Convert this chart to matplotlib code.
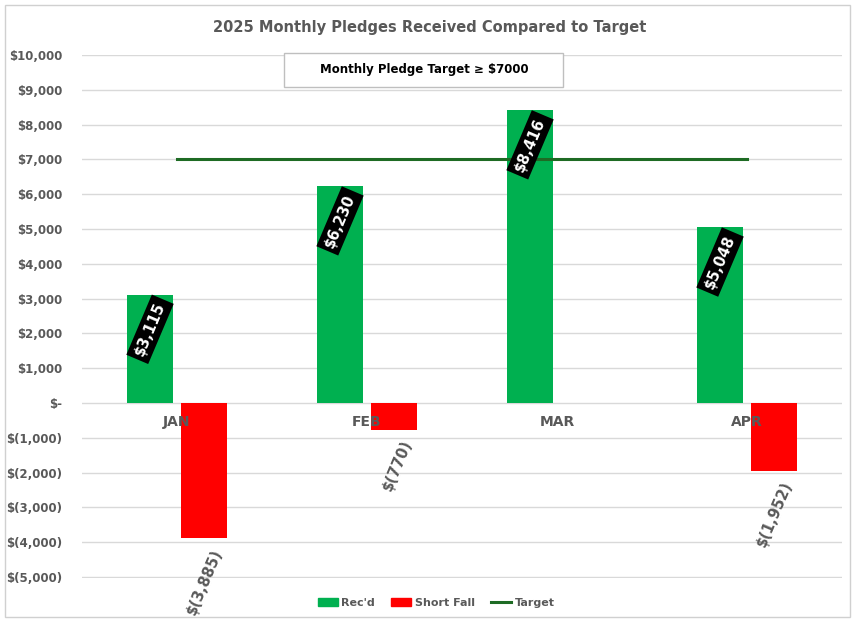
import numpy as np
import matplotlib.pyplot as plt
from matplotlib.patches import Rectangle, Patch
from matplotlib.lines import Line2D
from matplotlib.ticker import FuncFormatter

# Data
months = ["JAN", "FEB", "MAR", "APR"]
received = [3115, 6230, 8416, 5048]
shortfall = [-3885, -770, 0, -1952]
target = [7000, 7000, 7000, 7000]

GREEN = "#00B050"
RED = "#FF0000"
TARGET = "#1E6B24"
GRAY = "#595959"

def money(v, pos=None):
    if v == 0:
        return "$-"
    if v < 0:
        return "$({:,.0f})".format(-v)
    return "${:,.0f}".format(v)

fig = plt.figure(figsize=(8.55, 6.21), dpi=100)
ax = fig.add_axes([82 / 855, 43 / 621, 760 / 855, 523 / 621])

x = np.arange(len(months))
w = 0.242
off = 0.142

ax.bar(x - off, received, w, color=GREEN, zorder=2)
bars_short = [i for i, v in enumerate(shortfall) if v != 0]
ax.bar(x[bars_short] + off, [shortfall[i] for i in bars_short], w, color=RED, zorder=2)
ax.plot(x, target, color=TARGET, lw=2.2, zorder=3)

ax.set_xlim(-0.5, 3.5)
ax.set_ylim(-5030, 10000)
ax.set_yticks(np.arange(-5000, 10001, 1000))
ax.yaxis.set_major_formatter(FuncFormatter(money))
ax.tick_params(axis="y", length=0, pad=14, labelcolor=GRAY, labelsize=8.5)
for t in ax.get_yticklabels():
    t.set_fontweight("bold")
ax.set_xticks([])
ax.grid(axis="y", color="#d9d9d9", lw=1, zorder=0)
for s in ax.spines.values():
    s.set_visible(False)

# category labels next to the zero line
for i, m in enumerate(months):
    ax.annotate(m, (i, 0), xytext=(0, -14), textcoords="offset points",
                ha="center", va="center", fontsize=10, fontweight="bold",
                color=GRAY, zorder=4)

# received labels (white on black, rotated)
for i, v in enumerate(received):
    ax.annotate(money(v), (i - off, v), xytext=(0, -25), textcoords="offset points",
                ha="center", va="center", rotation=67, fontsize=10.5, fontweight="bold",
                color="white", zorder=5,
                bbox=dict(boxstyle="square,pad=0.3", fc="black", ec="none"))

# shortfall labels
for i in bars_short:
    v = shortfall[i]
    ax.annotate(money(v), (i + off, v), xytext=(10, -8), textcoords="offset points",
                ha="right", va="center", rotation=67, rotation_mode="anchor",
                fontsize=10.5, fontweight="bold", color=GRAY, zorder=5)

fig.text(0.503, 0.955, "2025 Monthly Pledges Received Compared to Target",
         ha="center", va="center", fontsize=10.5, fontweight="semibold", color=GRAY)

# target note box
fig.patches.append(Rectangle((284 / 855, 534 / 621), 279 / 855, 34 / 621,
                             transform=fig.transFigure, fc="white", ec="#bfbfbf", lw=1))
fig.text(424 / 855, 551 / 621, "Monthly Pledge Target \u2265 $7000",
         ha="center", va="center", fontsize=8.5, fontweight="bold", color="black")

# outer border
fig.patches.append(Rectangle((5 / 855, 4 / 621), 845 / 855, 612 / 621,
                             transform=fig.transFigure, fc="none", ec="#d0d0d0", lw=1))

handles = [Patch(color=GREEN, label="Rec'd"),
           Patch(color=RED, label="Short Fall"),
           Line2D([0], [0], color=TARGET, lw=2.2, label="Target")]
leg = fig.legend(handles=handles, loc="center", bbox_to_anchor=(0.51, 18 / 621),
                 ncol=3, frameon=False, fontsize=8, handlelength=1.8,
                 handletextpad=0.3, columnspacing=1.5)
for t in leg.get_texts():
    t.set_color(GRAY)
    t.set_fontweight("bold")

fig.savefig("out.png", dpi=100)
